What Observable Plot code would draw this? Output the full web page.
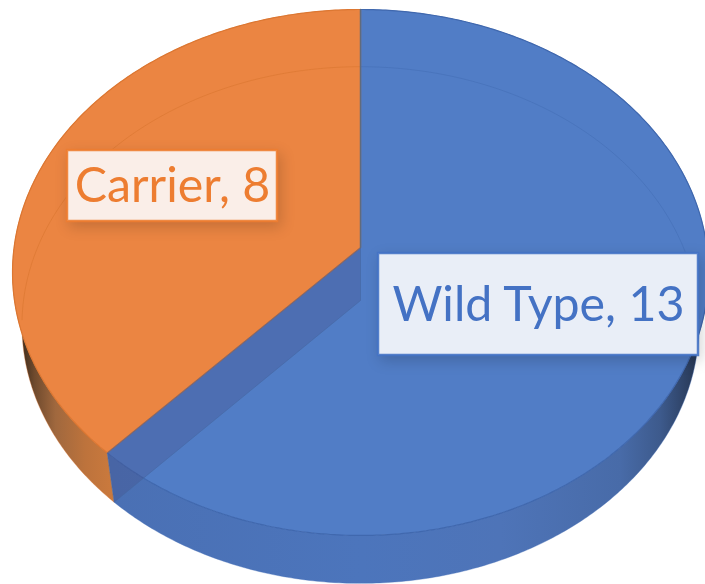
<!DOCTYPE html>
<html>
<head>
<meta charset="utf-8">
<script src="https://cdn.jsdelivr.net/npm/d3@7"></script>
<script src="https://cdn.jsdelivr.net/npm/@observablehq/plot@0.6"></script>
<style>
  html, body { margin: 0; padding: 0; background: #fff; }
  svg { display: block; }
</style>
</head>
<body>
<div id="chart"></div>
<script>
// Genotype counts, clockwise from twelve o'clock
const genotypes = ["Wild Type", "Carrier"];
const counts = [13, 8];
const faceColors = ["#517dc6", "#eb8542"];
const edgeColors = ["#4670b8", "#dc7732"];
const textColors = ["#4472c4", "#ed7d31"];
const boxFills = ["#e9eef7", "#faeee8"];
const boxBounds = [[378, 698, 253, 355], [67, 277, 150, 221]];
const fontSize = 48.3;

// Perspective disc: the top and bottom of the slab share one tilt factor
const W = 705, H = 584;
const tilt = 0.095;
const topDisc = {cx: 360, cy: 247, rx: 346.4, ry: 260.6};
const baseDisc = {cx: 360, cy: 300, rx: 337, ry: 256};

const project = (disc, a) => {
  const u = Math.sin(a), v = -Math.cos(a), w = 1 - tilt * v;
  return {x: disc.cx + disc.rx * u / w, y: disc.cy + disc.ry * v / w};
};
const rim = (disc, a0, a1) => {
  const n = Math.ceil(Math.abs(a1 - a0) / 0.01);
  return d3.range(n + 1).map((i) => project(disc, a0 + (a1 - a0) * i / n));
};
const centre = (disc) => ({x: disc.cx, y: disc.cy});

const arcs = d3.pie().sort(null)(counts);

const face = (arc) => [centre(topDisc), ...rim(topDisc, arc.startAngle, arc.endAngle), centre(topDisc)];
const wall = (arc) => [...rim(topDisc, arc.startAngle, arc.endAngle), ...rim(baseDisc, arc.endAngle, arc.startAngle)];

// Outer wall of each slice takes a horizontal shading ramp
const wallStops = [
  [[113, "#4a70b4"], [360, "#4c75bc"], [500, "#4e74b8"], [620, "#486ba8"], [660, "#3d5a8c"], [700, "#25344f"]],
  [[20, "#3a2a1c"], [34, "#6f4a2d"], [55, "#a0683e"], [85, "#bd733c"], [113, "#cb7a3d"]]
];
const gradients = () => {
  const defs = d3.create("svg:defs");
  wallStops.forEach((stops, i) => {
    const g = defs.append("linearGradient")
      .attr("id", `wall-${i}`)
      .attr("gradientUnits", "userSpaceOnUse")
      .attr("x1", stops[0][0]).attr("x2", stops[stops.length - 1][0])
      .attr("y1", 0).attr("y2", 0);
    const span = stops[stops.length - 1][0] - stops[0][0];
    for (const [x, c] of stops) {
      g.append("stop").attr("offset", (x - stops[0][0]) / span).attr("stop-color", c);
    }
  });
  return defs.node();
};

const wedgeAngle = arcs[0].endAngle;
const innerWall = [
  centre(topDisc), centre(baseDisc), project(baseDisc, wedgeAngle), project(topDisc, wedgeAngle), centre(topDisc)
];
const seam = [project(topDisc, 0), centre(topDisc)];
const labels = genotypes.map((g, i) => ({
  text: `${g}, ${counts[i]}`,
  x1: boxBounds[i][0], x2: boxBounds[i][1], y1: boxBounds[i][2], y2: boxBounds[i][3],
  fill: boxFills[i], stroke: textColors[i], color: textColors[i]
}));

const xy = {x: "x", y: "y"};
const chart = Plot.plot({
  width: W,
  height: H,
  margin: 0,
  x: {domain: [0, W], range: [0, W], axis: null},
  y: {domain: [0, H], range: [0, H], axis: null},
  marks: [
    gradients,
    // slab sides
    ...arcs.map((arc, i) => Plot.line(wall(arc), {...xy, fill: `url(#wall-${i})`, stroke: edgeColors[i], strokeWidth: 0.6, strokeOpacity: 0.6})),
    // top faces
    ...arcs.map((arc, i) => Plot.line(face(arc), {...xy, fill: faceColors[i], stroke: i ? edgeColors[i] : "#4068ae", strokeWidth: 1.2})),
    // far edge of the base, showing faintly through the top
    ...arcs.map((arc, i) => Plot.line(rim(baseDisc, arc.startAngle, arc.endAngle).filter((p) => p.y < 320), {...xy, stroke: edgeColors[i], strokeWidth: 1, strokeOpacity: 0.7})),
    // radial wall of the blue slice, seen through its top
    Plot.line(innerWall, {...xy, fill: "rgb(70,77,133)", fillOpacity: 0.3, stroke: "#44669f", strokeWidth: 0.8, strokeOpacity: 0.7}),
    Plot.line(seam, {...xy, stroke: "#5f6b7d", strokeWidth: 1.4}),
    // data labels
    Plot.rect(labels, {
      x1: "x1", x2: "x2", y1: "y1", y2: "y2",
      fill: "fill", stroke: "stroke", strokeWidth: 2.5, strokeOpacity: 0.9,
      imageFilter: "drop-shadow(3px 5px 7px rgba(0,0,0,0.16))"
    }),
    Plot.text(labels, {
      x: (d) => (d.x1 + d.x2) / 2,
      y: (d) => (d.y1 + d.y2) / 2 + 1,
      text: "text",
      fill: "color",
      fontSize,
      fontFamily: "Lato",
      textAnchor: "middle"
    })
  ]
});
document.getElementById("chart").append(chart);
</script>
</body>
</html>
